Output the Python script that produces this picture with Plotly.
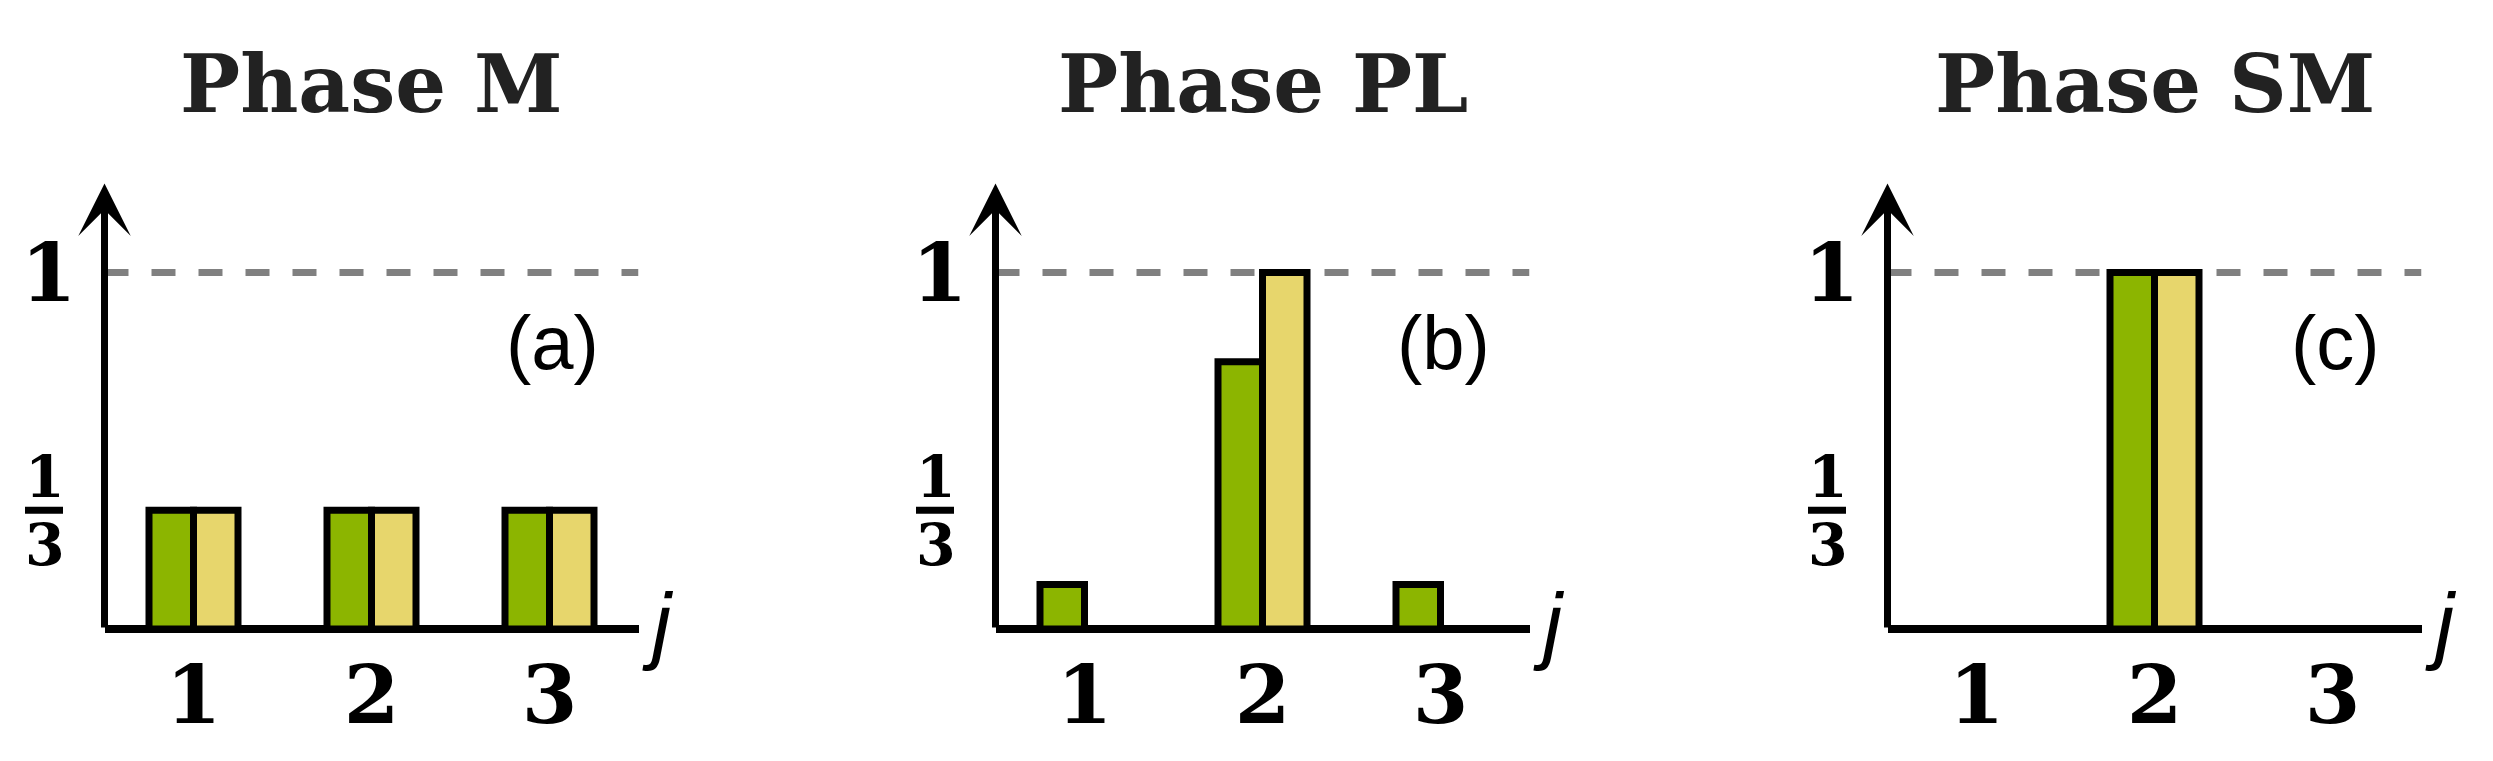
import plotly.graph_objects as go

# ---- data ----
categories = [1, 2, 3]
tick_labels = ["1", "2", "3"]
panel_titles = ["Phase M", "Phase PL", "Phase SM"]
panel_tags = ["(a)", "(b)", "(c)"]
green_M = [1/3, 1/3, 1/3]
yellow_M = [1/3, 1/3, 1/3]
green_PL = [0.125, 0.75, 0.125]
yellow_PL = [0.0, 1.0, 0.0]
green_SM = [0.0, 1.0, 0.0]
yellow_SM = [0.0, 1.0, 0.0]
greens = [green_M, green_PL, green_SM]
yellows = [yellow_M, yellow_PL, yellow_SM]

GREEN = "#8cb500"
YELLOW = "#e7d66c"
# page body has an 8px margin: figure drawn in the remaining area
W, H = 2477, 745
BAR_W = 0.25

# geometry (figure pixels)
x_starts = [96.5, 987.5, 1879.5]
x_len = 534
K = 356.5            # pixels per unit on y
Y0 = 621             # pixel row of y = 0
YMIN, YMAX = -0.03, 1.25
dom_bot = Y0 + (-YMIN) * K
dom_top = Y0 - YMAX * K

fig = go.Figure()
layout = dict(
    width=W, height=H, margin=dict(l=0, r=0, t=0, b=0),
    paper_bgcolor="white", plot_bgcolor="white", showlegend=False,
    barmode="overlay",
)
annotations = []
shapes = []
serif_bold = dict(family="DejaVu Serif", size=80, color="black", weight="bold")

for i in range(3):
    sfx = "" if i == 0 else str(i + 1)
    xa, ya = "x" + sfx, "y" + sfx
    fig.add_trace(go.Bar(x=categories, y=greens[i], width=BAR_W, offset=-BAR_W,
                         marker=dict(color=GREEN, line=dict(color="black", width=7)),
                         xaxis=xa, yaxis=ya))
    fig.add_trace(go.Bar(x=categories, y=yellows[i], width=BAR_W, offset=0,
                         marker=dict(color=YELLOW, line=dict(color="black", width=7)),
                         xaxis=xa, yaxis=ya))
    dom = [x_starts[i] / W, (x_starts[i] + x_len) / W]
    layout["xaxis" + sfx] = dict(
        domain=dom, range=[0.5, 3.5], anchor=ya, showgrid=False, zeroline=False,
        showline=False, tickmode="array", tickvals=categories, ticktext=tick_labels,
        tickfont=serif_bold, ticks="", ticklabelstandoff=2, fixedrange=True)
    layout["yaxis" + sfx] = dict(
        domain=[(H - dom_bot) / H, (H - dom_top) / H], range=[YMIN, YMAX], anchor=xa,
        showgrid=False, zeroline=True, zerolinewidth=8, zerolinecolor="black",
        showline=False, tickmode="array", tickvals=[1], ticktext=["1"],
        tickfont=serif_bold, ticks="", ticklabelstandoff=27, fixedrange=True)
    # y axis with arrow
    annotations.append(dict(x=0.5, y=YMAX, ax=0.5, ay=0, xref=xa, yref=ya,
                            axref=xa, ayref=ya, text="", showarrow=True,
                            arrowhead=3, arrowwidth=7, arrowsize=1.25,
                            arrowcolor="black", standoff=0))
    # dashed reference line at 1
    shapes.append(dict(type="line", xref=xa, yref=ya, x0=0.5, x1=3.5, y0=1, y1=1,
                       line=dict(color="#808080", width=7, dash="24px,23px"),
                       layer="below"))
    # fraction 1/3 label
    frac_text = ("<span style='font-size:57px'>1</span><br>"
                 "<span style='font-size:57px'>3</span>")
    annotations.append(dict(x=0.5, y=1/3, xref=xa, yref=ya, text=frac_text,
                            showarrow=False, xshift=-60, yanchor="middle",
                            font=dict(family="DejaVu Serif", size=52, color="black",
                                      weight="bold")))
    yfrac = (1/3 - YMIN) / (YMAX - YMIN)
    shapes.append(dict(type="line", xref=xa + " domain", yref=ya + " domain",
                       xsizemode="pixel", xanchor=0, x0=-79.5, x1=-41.5,
                       y0=yfrac, y1=yfrac, line=dict(color="black", width=7)))
    # panel tag
    annotations.append(dict(x=3, y=0.8026, xref=xa, yref=ya, text=panel_tags[i],
                            showarrow=False, yanchor="middle", xshift=2.5,
                            font=dict(family="Liberation Sans", size=76, color="black")))
    # axis label j
    annotations.append(dict(x=3.5, y=0, xref=xa, yref=ya, text="<i>j</i>",
                            showarrow=False, xanchor="left", yanchor="middle",
                            xshift=1, yshift=6,
                            font=dict(family="Liberation Sans", size=86, color="black")))
    # title
    annotations.append(dict(x=0.5, y=(H - 76) / H, xref=xa + " domain", yref="paper",
                            text=panel_titles[i], showarrow=False, yanchor="middle",
                            font=dict(family="DejaVu Serif", size=80, color="#222222",
                                      weight="bold")))

layout["annotations"] = annotations
layout["shapes"] = shapes
fig.update_layout(**layout)
fig.write_html("out.html")
